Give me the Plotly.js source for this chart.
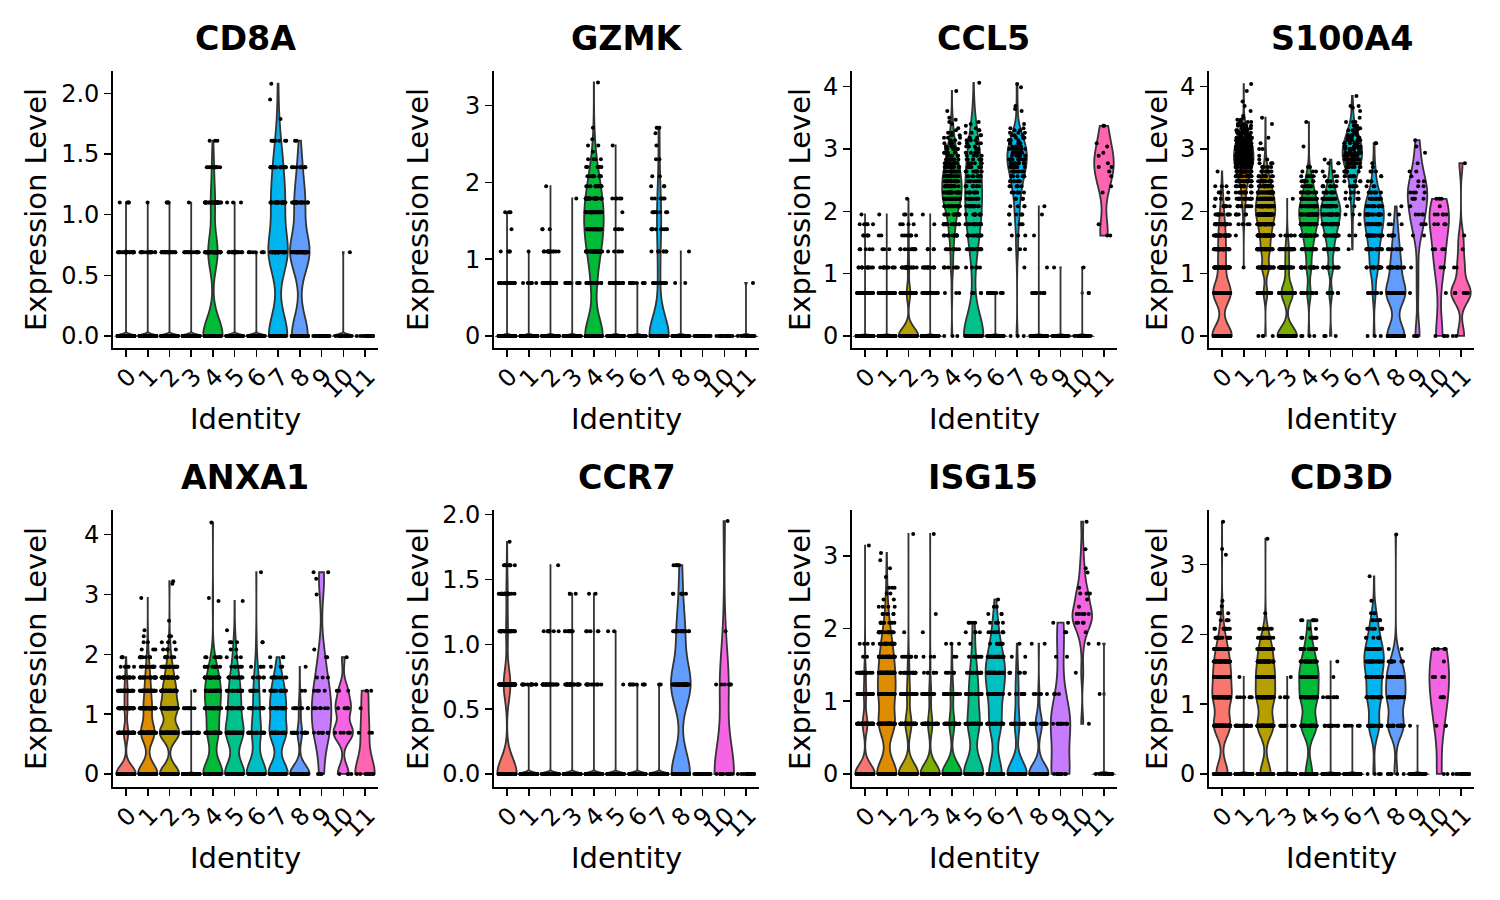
<!DOCTYPE html>
<html>
<head>
<meta charset="utf-8">
<script src="https://cdn.plot.ly/plotly-3.0.1.min.js"></script>
<style>html,body{margin:0;padding:0;background:#fff}</style>
</head>
<body>
<div id="chart" style="width:1500px;height:900px"></div>
<script>
const identities = ["0","1","2","3","4","5","6","7","8","9","10","11"];
const clusterColors = ["#F8766D","#DE8C00","#B79F00","#7CAE00","#00BA38","#00C08B","#00BFC4","#00B4F0","#619CFF","#C77CFF","#F564E3","#FF64B0"];
// The expression values in this picture sit on discrete rows; each cluster below gives cell counts per row index.
const levels = [0,0.69,1.10,1.39,1.61,1.79,1.95,2.08,2.20,2.30,2.40,2.48,2.56,2.64,2.71,2.77,2.83,2.89,2.94,3.00,3.04,3.09,3.14,3.18,3.22,3.26,3.30,3.33,3.37,3.40,3.43,3.47,3.50,3.53,3.56,3.58,3.61,3.64,3.66,3.69,3.71,3.74,3.76,3.78,3.81,3.83,3.85,3.87,3.89,3.91,3.93,3.95,3.97,3.99,4.01,4.03,4.04,4.06,4.08,4.09,4.11,4.13,4.14,4.16,4.17,4.19,4.20];

const CD8A = [
 {0:450,1:26,2:4},{0:440,1:18,2:1},{0:410,1:22,2:4},{0:320,1:16,2:1},
 {0:135,1:65,2:28,3:12,4:3},{0:180,1:18,2:3},{0:150,1:8},
 {0:50,1:50,2:30,3:18,4:7,5:1,6:1,7:1},{0:42,1:50,2:25,3:10,4:2},
 {0:32},{0:24,1:1},{0:14}];
const GZMK = [
 {0:440,1:25,2:4,3:1,4:3},{0:450,1:8,2:1},{0:400,1:22,2:14,3:3,6:1},{0:330,1:12,5:1},
 {0:75,1:20,2:36,3:38,4:30,5:24,6:14,7:10,8:6,9:4,10:1,11:2,12:1,14:1,26:1},
 {0:190,1:18,2:5,3:5,4:1,5:5,11:1},{0:155,1:10},
 {0:105,1:10,2:8,3:10,4:8,5:6,6:3,7:2,9:2,11:1,13:1,14:3},
 {0:128,1:2,2:1},{0:32},{0:24},{0:13,1:1}];
const CCL5 = [
 {0:420,1:40,2:12,3:5,4:5,5:5,6:1},{0:420,1:40,2:12,3:3,4:2,6:1},
 {0:300,1:55,2:22,3:10,4:7,5:4,6:3,8:1},{0:300,1:30,2:14,3:4,5:1,6:1},
 {0:3,1:3,2:8,3:9,4:11,5:15,6:14,7:22,8:24,9:22,10:20,11:18,12:16,13:14,14:12,15:10,16:7,17:6,18:5,19:6,20:4,21:4,22:2,23:3,24:2,25:2,26:1,27:1,29:1,30:1,31:1,32:1,36:1,50:1},
 {0:100,1:5,2:5,3:14,4:14,5:16,6:12,7:18,8:12,9:10,10:9,11:7,12:8,13:8,14:7,15:6,16:5,17:4,18:4,19:5,20:4,21:3,22:3,23:3,24:2,25:2,26:2,27:1,28:1,29:1,30:1,57:1},
 {0:150,1:12},
 {0:3,2:1,3:4,4:3,5:4,6:6,7:4,8:5,9:6,10:6,11:7,12:8,13:8,14:9,15:9,16:9,17:8,18:8,19:8,20:6,21:5,22:5,23:4,24:3,25:3,26:2,27:2,29:1,36:1,37:1,39:1,53:1,56:1},
 {0:120,1:10,2:1,4:1,6:1,7:1},{0:30,2:1},{0:24,1:2,2:1},
 {4:2,5:1,9:1,10:1,12:1,13:1,14:2,15:1,17:1,18:1,20:1,21:1,28:2}];
const S100A4 = [
 {0:170,1:150,2:50,3:40,4:30,5:22,6:12,7:8,8:6,9:4,10:3,13:1},
 {2:1,4:1,5:5,6:6,7:10,8:14,9:12,10:14,11:20,12:24,13:30,14:28,15:32,16:32,17:30,18:28,19:26,20:22,21:20,22:18,23:16,24:12,25:10,26:6,27:6,28:6,29:2,30:3,31:2,32:1,33:1,36:1,39:1,42:1,50:1,56:1},
 {0:4,1:22,2:40,3:45,4:45,5:50,6:60,7:50,8:40,9:30,10:22,11:18,12:10,13:8,14:6,15:3,16:2,17:1,19:2,21:1,23:1,29:1,32:1},
 {0:170,1:100,2:30,3:25,4:6,8:1},
 {0:4,1:14,2:18,3:22,4:28,5:35,6:38,7:30,8:20,9:14,10:10,11:8,12:6,13:3,14:2,20:1,30:1},
 {0:4,1:8,2:14,3:16,4:22,5:28,6:30,7:26,8:16,9:10,10:8,11:4,12:3,13:2,15:3,16:1},
 {3:1,4:2,5:1,6:3,7:2,8:5,9:4,10:5,11:4,12:7,13:9,14:9,15:10,16:12,17:11,18:11,19:10,20:9,21:8,22:7,23:6,24:5,25:4,26:3,27:3,28:3,30:3,32:1,36:1,38:1,39:2,46:1},
 {0:3,1:8,2:20,3:18,4:20,5:22,6:24,7:16,8:14,9:7,10:3,11:2,12:2,13:3,14:1,15:1,21:2},
 {0:42,1:45,2:20,3:10,4:6,5:3,6:2,7:1},
 {0:3,1:1,2:1,4:2,5:3,6:4,7:1,8:4,9:4,10:2,11:2,12:1,13:2,15:1,18:1,20:1,22:1},
 {0:4,1:1,2:3,3:4,5:4,6:5,7:1,8:3},
 {0:2,1:6,2:2,3:1,4:1,15:1}];
const ANXA1 = [
 {0:310,1:70,2:45,3:40,4:20,5:6,6:3},
 {0:190,1:130,2:70,3:40,4:25,5:15,6:8,7:3,8:2,9:1,10:1,18:1},
 {0:110,1:110,2:90,3:60,4:32,5:20,6:8,7:5,8:3,9:2,12:1,23:1,24:1},
 {0:300,1:35,2:10,3:1},
 {0:85,1:45,2:40,3:38,4:24,5:10,6:7,17:1,18:1,66:1},
 {0:65,1:55,2:30,3:20,4:14,5:6,6:4,7:2,8:3,10:1,17:1},
 {0:70,1:30,2:15,3:10,4:7,5:4,8:2,28:1},
 {0:50,1:40,2:30,3:20,4:10,5:3,6:3},
 {0:85,1:20,2:9,3:2,5:1},
 {0:3,1:8,2:7,3:4,4:3,6:2,7:1,19:1,25:1,28:2},
 {0:4,1:7,2:5,3:3,6:1},
 {0:8,1:3,2:1,3:2}];
const CCR7 = [
 {0:320,1:110,2:30,3:20,4:7,5:1},{0:440,1:14},{0:400,1:25,2:9,4:1},{0:320,1:25,2:8,3:3},
 {0:240,1:12,2:5,3:2},{0:195,1:1,2:2},{0:155,1:9},{0:148,1:2},
 {0:48,1:50,2:20,3:6,4:5},{0:32},{0:14,1:6,2:1,6:1},{0:14}];
const ISG15 = [
 {0:330,1:80,2:38,3:24,4:2,5:4,22:1},
 {0:130,1:100,2:85,3:65,4:40,5:30,6:18,7:10,8:6,9:4,10:2,11:2,12:3,14:1,16:1,18:1,20:1},
 {0:240,1:75,2:35,3:18,4:8,6:1,26:1},
 {0:220,1:50,2:22,3:6,4:3,6:1,8:1,26:1},
 {0:155,1:40,2:22,3:7,4:2,5:3},
 {0:70,1:40,2:25,3:14,4:7,5:1,6:4,7:4},
 {0:45,1:38,2:35,3:40,4:25,5:10,6:8,7:5,8:3,9:2,10:1},
 {0:90,1:22,2:12,3:7,4:2,5:1},
 {0:85,1:28,2:5,5:2},
 {0:12,1:12,2:3,4:2,6:2,7:2},
 {1:1,3:1,5:1,6:1,7:4,8:5,9:1,10:1,11:3,12:1,15:1,16:1,21:1,31:1},
 {0:12,2:1,5:1}];
const CD3D = [
 {0:80,1:110,2:110,3:80,4:55,5:40,6:16,7:10,8:4,9:5,10:1,11:1,22:1,24:1,36:1},
 {0:440,1:30,2:7,3:1},
 {0:60,1:90,2:90,3:75,4:45,5:40,6:20,7:8,9:1,28:1},
 {0:320,1:12,2:4,3:1},
 {0:25,1:55,2:55,3:50,4:30,5:15,6:8,7:2,8:6},
 {0:175,1:15,2:7,3:1,4:1},{0:155,1:8},
 {0:4,1:25,2:30,3:22,4:26,5:22,6:8,7:8,8:6,9:3,11:1,16:1},
 {0:6,1:30,2:30,3:25,4:12,5:2,30:1},
 {0:32,1:1},{0:2,1:3,2:4,3:4,4:1,5:4},{0:14}];

const genes = ["CD8A","GZMK","CCL5","S100A4","ANXA1","CCR7","ISG15","CD3D"];
const geneData = [CD8A,GZMK,CCL5,S100A4,ANXA1,CCR7,ISG15,CD3D];
const yTickVals = [[0,0.5,1,1.5,2],[0,1,2,3],[0,1,2,3,4],[0,1,2,3,4],[0,1,2,3,4],[0,0.5,1,1.5,2],[0,1,2,3],[0,1,2,3]];
const yTickText = [["0.0","0.5","1.0","1.5","2.0"],["0","1","2","3"],["0","1","2","3","4"],["0","1","2","3","4"],["0","1","2","3","4"],["0.0","0.5","1.0","1.5","2.0"],["0","1","2","3"],["0","1","2","3"]];
const yRanges = [[-0.1,2.185],[-0.156,3.45],[-0.193,4.25],[-0.193,4.25],[-0.2176,4.41],[-0.1,2.035],[-0.18,3.63],[-0.187,3.78]];

// layout in page pixels
const W = 1500, H = 900;
const panelLeft  = [113,494,852,1209,113,494,852,1209];
const panelRight = [378,759,1117,1474,378,759,1117,1474];
const titleCenter = [245.5,626.5,983.5,1341.5,245.5,626.5,983.5,1341.5];
const rowTop = [71,510], rowBottom = [348,787], titleY = [38,477];
const yTitleStandoff = [6,28,4,4,29,5,4,4];

function expand(counts){
  const vals=[];
  Object.keys(counts).forEach(k=>{ for(let i=0;i<counts[k];i++) vals.push(levels[+k]); });
  return vals.sort((a,b)=>a-b);
}
function quant(v,p){ const h=(v.length-1)*p,l=Math.floor(h); return v[l]+(h-l)*((v[Math.min(l+1,v.length-1)])-v[l]); }
// same rule of thumb as the density used by the original violins
function bandwidth(v){
  const n=v.length, m=v.reduce((a,b)=>a+b,0)/n;
  const sd=Math.sqrt(v.reduce((a,b)=>a+(b-m)*(b-m),0)/Math.max(n-1,1));
  const iqr=quant(v,0.75)-quant(v,0.25);
  if(iqr===0||sd===0) return 0.012;
  return 0.9*Math.min(sd,iqr/1.34)*Math.pow(n,-0.2);
}
// fixed horizontal scatter of a dot inside its cluster column (never touches a value)
function spread(c,k,i){
  const s=Math.sin((i+1)*12.9898+c*78.233+k*37.719)*43758.5453;
  return (s-Math.floor(s)-0.5)*0.76;
}

const traces=[], layout={
  width:W,height:H,margin:{l:0,r:0,t:0,b:0,pad:0},showlegend:false,autosize:false,
  paper_bgcolor:"#fff",plot_bgcolor:"#fff",violinmode:"overlay",violingap:0,violingroupgap:0,
  font:{family:"DejaVu Sans",color:"#000"},annotations:[],hovermode:false
};
genes.forEach((g,p)=>{
  const id=p===0?"":String(p+1), row=p<4?0:1;
  const xa="x"+id, ya="y"+id;
  layout["xaxis"+id]={
    domain:[panelLeft[p]/W,panelRight[p]/W],anchor:ya,range:[-0.6,11.6],tickmode:"array",
    tickvals:identities.map((s,i)=>i),ticktext:identities,tickangle:-45,ticklabelshift:3,ticklabelstandoff:-4,
    ticks:"outside",ticklen:7,tickwidth:1.5,tickcolor:"#000",showline:true,linecolor:"#000",linewidth:1.8,
    showgrid:false,zeroline:false,tickfont:{family:"DejaVu Sans",size:24,color:"#000"},
    title:{text:"Identity",standoff:6,font:{family:"DejaVu Sans",size:29,color:"#000"}}
  };
  layout["yaxis"+id]={
    domain:[1-rowBottom[row]/H,1-rowTop[row]/H],anchor:xa,range:yRanges[p],tickmode:"array",
    tickvals:yTickVals[p],ticktext:yTickText[p],
    ticks:"outside",ticklen:7,tickwidth:1.5,tickcolor:"#000",showline:true,linecolor:"#000",linewidth:1.8,
    showgrid:false,zeroline:false,tickfont:{family:"DejaVu Sans",size:24,color:"#000"},
    title:{text:"Expression Level",standoff:yTitleStandoff[p],font:{family:"DejaVu Sans",size:29,color:"#000"}}
  };
  layout.annotations.push({
    text:"<b>"+g+"</b>",xref:"paper",yref:"paper",
    x:titleCenter[p]/W,y:1-titleY[row]/H,xanchor:"center",yanchor:"middle",showarrow:false,
    font:{family:"DejaVu Sans",size:33.3,color:"#000"}
  });
  const px=[],py=[];
  geneData[p].forEach((counts,c)=>{
    const v=expand(counts);
    if(Object.keys(counts).length>1){
      traces.push({type:"violin",x:v.map(()=>c),y:v,xaxis:xa,yaxis:ya,name:identities[c],
        width:0.9,scalemode:"width",spanmode:"hard",bandwidth:bandwidth(v),points:false,
        box:{visible:false},meanline:{visible:false},fillcolor:clusterColors[c],opacity:1,
        line:{color:"#333333",width:1.8},hoverinfo:"skip",showlegend:false});
    }
    Object.keys(counts).forEach(k=>{
      for(let i=0;i<counts[k];i++){ px.push(c+spread(c,+k,i)); py.push(levels[+k]); }
    });
  });
  traces.push({type:"scatter",mode:"markers",x:px,y:py,xaxis:xa,yaxis:ya,name:g,
    marker:{color:"#000",size:4,line:{width:0}},hoverinfo:"skip",showlegend:false,cliponaxis:false});
});
Plotly.newPlot("chart",traces,layout,{staticPlot:true,displayModeBar:false});
</script>
</body>
</html>
